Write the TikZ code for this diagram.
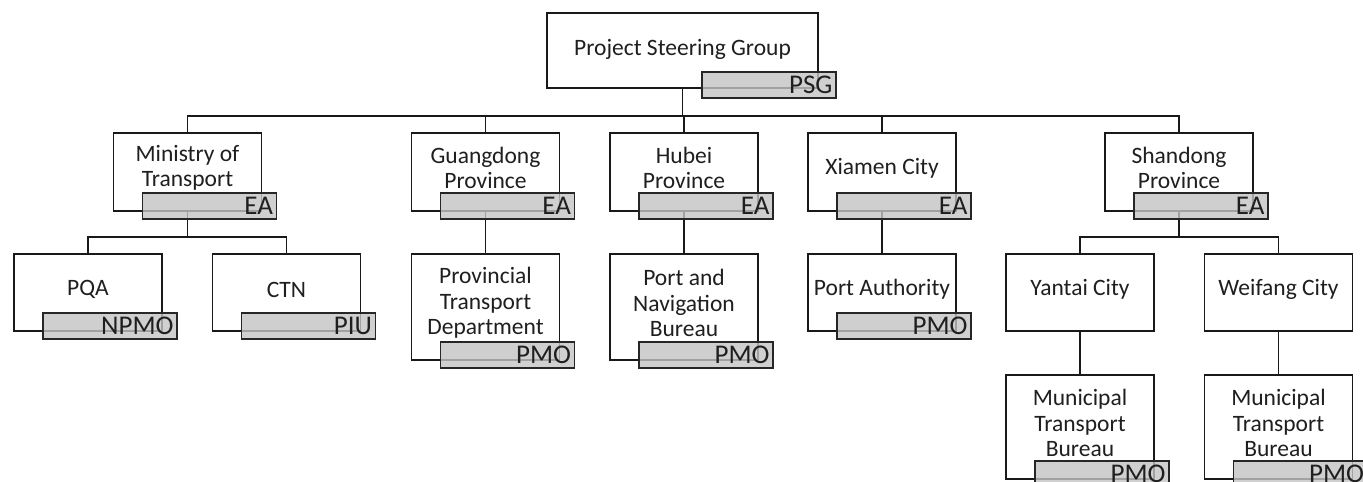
\documentclass[tikz,border=0pt]{standalone}
\usepackage{fontspec}
\setmainfont{Carlito}
\begin{document}
\begin{tikzpicture}[x=1pt,y=-1pt,
  box/.style={draw=black!90, line width=1.5pt, fill=white, minimum width=148pt, inner sep=0pt, outer sep=0pt},
  lbl/.style={font=\fontsize{23.5}{25.5}\selectfont, align=center, inner sep=0pt, text=black!88},
  tagbox/.style={draw=black!85, line width=1.2pt, fill={rgb,255:red,196;green,196;blue,196}, fill opacity=0.8, text opacity=1,
     minimum width=134pt, minimum height=26pt, text width=127pt, align=right, inner xsep=3.5pt, inner ysep=0pt,
     outer sep=0pt, font=\fontsize{27}{27}\selectfont, text=black!88},
  conn/.style={draw=black!90, line width=1.6pt}]
\useasboundingbox (0,0) rectangle (1363,482);
% boxes
\node[box, minimum width=271pt, minimum height=75pt] (psg) at (682.5,50.5) {};
\node[box, minimum height=78pt] (mot) at (187.5,172) {};
\node[box, minimum height=78pt] (gd) at (485.5,172) {};
\node[box, minimum height=78pt] (hb) at (684,172) {};
\node[box, minimum height=78pt] (xm) at (882,172) {};
\node[box, minimum height=78pt] (sd) at (1179,172) {};
\node[box, minimum height=77pt] (pqa) at (88,292.5) {};
\node[box, minimum height=77pt] (ctn) at (286.5,292.5) {};
\node[box, minimum height=106pt] (ptd) at (485.5,307) {};
\node[box, minimum height=106pt] (pnb) at (684,307) {};
\node[box, minimum height=77pt] (pa) at (882,292.5) {};
\node[box, minimum height=77pt] (yt) at (1080,292.5) {};
\node[box, minimum height=77pt] (wf) at (1278.5,292.5) {};
\node[box, minimum height=104pt] (mtb1) at (1080,427) {};
\node[box, minimum height=104pt] (mtb2) at (1278.5,427) {};
% labels
\node[lbl] at ([yshift=1.5pt]psg.center) {Project Steering Group};
\node[lbl] at ([yshift=4pt]mot.center) {Ministry of\\Transport};
\node[lbl] at ([yshift=4pt]gd.center) {Guangdong\\Province};
\node[lbl] at ([yshift=4pt]hb.center) {Hubei\\Province};
\node[lbl] at ([yshift=4pt]xm.center) {Xiamen City};
\node[lbl] at ([yshift=4pt]sd.center) {Shandong\\Province};
\node[lbl] at ([yshift=3pt]pqa.center) {PQA};
\node[lbl] at ([yshift=3pt]ctn.center) {CTN};
\node[lbl] at ([yshift=4pt]ptd.center) {Provincial\\Transport\\Department};
\node[lbl] at ([yshift=4pt]pnb.center) {Port and\\Navigation\\Bureau};
\node[lbl] at ([yshift=3pt]pa.center) {Port Authority};
\node[lbl] at ([yshift=3pt]yt.center) {Yantai City};
\node[lbl] at ([yshift=3pt]wf.center) {Weifang City};
\node[lbl] at ([yshift=4pt]mtb1.center) {Municipal\\Transport\\Bureau};
\node[lbl] at ([yshift=4pt]mtb2.center) {Municipal\\Transport\\Bureau};
% connectors
\coordinate (bus) at (682.5,116);
\draw[conn] (psg.south) -- (bus);
\draw[conn] (mot.north) |- (bus) -| (sd.north);
\draw[conn] (gd.north) -- (gd.north |- bus);
\draw[conn] (hb.north) -- (hb.north |- bus);
\draw[conn] (xm.north) -- (xm.north |- bus);
\coordinate (bmot) at (187.5,237);
\draw[conn] (mot.south) -- (bmot);
\draw[conn] (pqa.north) |- (bmot) -| (ctn.north);
\draw[conn] (gd.south) -- (ptd.north);
\draw[conn] (hb.south) -- (pnb.north);
\draw[conn] (xm.south) -- (pa.north);
\coordinate (bsd) at (1179,237);
\draw[conn] (sd.south) -- (bsd);
\draw[conn] (yt.north) |- (bsd) -| (wf.north);
\draw[conn] (yt.south) -- (mtb1.north);
\draw[conn] (wf.south) -- (mtb2.north);
% tags
\node[tagbox, anchor=south east] (tpsg) at ([xshift=18pt,yshift=-10pt]psg.south east) {PSG};
\foreach \n/\t in {mot/EA, gd/EA, hb/EA, xm/EA, sd/EA, pqa/NPMO, ctn/PIU, ptd/PMO, pnb/PMO, pa/PMO, mtb1/PMO, mtb2/PMO}{
  \node[tagbox, anchor=south west] (t\n) at ([xshift=29pt,yshift=-8pt]\n.south west) {\t};
}
\end{tikzpicture}
\end{document}
